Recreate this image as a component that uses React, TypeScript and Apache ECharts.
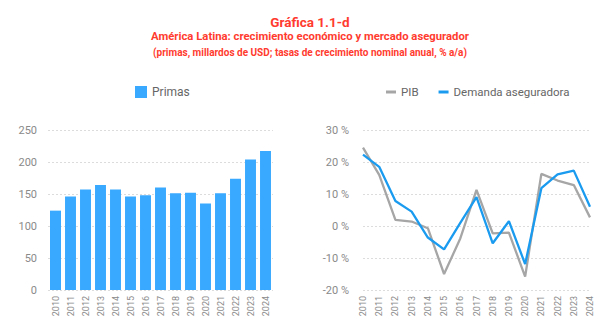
import React, { useEffect, useRef } from "react";
import * as echarts from "echarts";

const years = ["2010","2011","2012","2013","2014","2015","2016","2017","2018","2019","2020","2021","2022","2023","2024"];
const primas = [124, 146, 157, 164, 157, 146, 148, 160, 151, 152, 135, 151, 174, 204, 217];
const pib = [24.5, 16, 1.9, 1.4, -0.7, -15, -3.9, 11.3, -2.3, -2.1, -15.8, 16.3, 14.2, 12.8, 2.7];
const demanda = [22.3, 18.5, 7.8, 4.5, -3.6, -7.3, 1.0, 9.0, -5.4, 1.5, -11.9, 11.8, 16.1, 17.3, 6.0];

const FONT = "'Roboto', sans-serif";
const RED = "#ff3b2f";
const BAR = "#39a9ff";
const BLUE = "#1a9bf0";
const GRAY = "#a6a6a6";

export default function App() {
  const ref = useRef<HTMLDivElement>(null);
  useEffect(() => {
    const chart = echarts.init(ref.current!, null, { renderer: "svg" });
    const splitLine = { show: true, lineStyle: { color: "#dcdcdc", type: [2, 2] as any, width: 1 } };
    const xLabel = { rotate: 90, fontSize: 9, color: "#8a8a8a", margin: 6, fontFamily: FONT, interval: 0 };
    chart.setOption({
      animation: false,
      textStyle: { fontFamily: FONT },
      title: [
        { text: "Gráfica 1.1-d", left: 305, top: 10, textAlign: "center", textStyle: { color: RED, fontSize: 13.5, fontWeight: "bold", fontFamily: FONT } },
        { text: "América Latina: crecimiento económico y mercado asegurador", left: 305, top: 26, textAlign: "center", textStyle: { color: RED, fontSize: 11.3, fontWeight: "bold", fontFamily: FONT } },
        { text: "(primas, millardos de USD; tasas de crecimiento nominal anual, % a/a)", left: 305, top: 42, textAlign: "center", textStyle: { color: RED, fontSize: 10, fontWeight: "bold", fontFamily: FONT } },
      ],
      legend: [
        { data: ["Primas"], left: 135, top: 86, padding: 0, icon: "rect", itemWidth: 12, itemHeight: 12, textStyle: { color: "#666", fontSize: 12, fontFamily: FONT } },
        { data: ["PIB", "Demanda aseguradora"], left: 386, top: 86, padding: 0, icon: "rect", itemWidth: 10, itemHeight: 3, itemGap: 20, textStyle: { color: "#666", fontSize: 11.5, fontFamily: FONT } },
      ],
      grid: [
        { left: 48, right: 337, top: 130, bottom: 33 },
        { left: 363, right: 20, top: 130, bottom: 33 },
      ],
      xAxis: [
        { type: "category", gridIndex: 0, data: years, axisLine: { show: false }, axisTick: { show: false }, axisLabel: xLabel },
        { type: "category", gridIndex: 1, data: years, boundaryGap: false, axisLine: { show: false }, axisTick: { show: false }, axisLabel: xLabel },
      ],
      yAxis: [
        { type: "value", gridIndex: 0, min: 0, max: 250, interval: 50, splitLine, axisLabel: { color: "#8a8a8a", fontSize: 11, margin: 11, fontFamily: FONT } },
        { type: "value", gridIndex: 1, min: -20, max: 30, interval: 10, splitLine, axisLabel: { color: "#8a8a8a", fontSize: 11, margin: 14, fontFamily: FONT, formatter: "{value} %" } },
      ],
      series: [
        { name: "Primas", type: "bar", xAxisIndex: 0, yAxisIndex: 0, data: primas, barCategoryGap: "27%", itemStyle: { color: BAR } },
        { name: "PIB", type: "line", xAxisIndex: 1, yAxisIndex: 1, data: pib, showSymbol: false, symbol: "none", lineStyle: { color: GRAY, width: 2.3 }, itemStyle: { color: GRAY } },
        { name: "Demanda aseguradora", type: "line", xAxisIndex: 1, yAxisIndex: 1, data: demanda, showSymbol: false, symbol: "none", lineStyle: { color: BLUE, width: 2.3 }, itemStyle: { color: BLUE } },
      ],
    });
    return () => chart.dispose();
  }, []);
  return <div ref={ref} style={{ width: 610, height: 323, position: "absolute", left: 0, top: 0, background: "#fff" }} />;
}
